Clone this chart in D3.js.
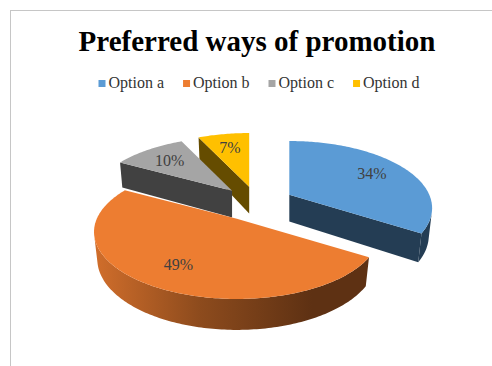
<!DOCTYPE html>
<html>
<head>
<meta charset="utf-8">
<script src="https://cdn.jsdelivr.net/npm/d3@7"></script>
<style>
  body { margin: 0; background: #fff; }
  text { font-family: "Liberation Serif", "Times New Roman", serif; }
</style>
</head>
<body>
<div id="chart"></div>
<script>
// chart data
const title = "Preferred ways of promotion";
const categories = ["Option a", "Option b", "Option c", "Option d"];
const shares = [34, 49, 10, 7];
const shareLabels = ["34%", "49%", "10%", "7%"];
const colors = ["#5B9BD5", "#ED7D31", "#A5A5A5", "#FFC000"];

const width = 492, height = 366;

const svg = d3.select("#chart")
  .append("svg")
  .attr("width", width)
  .attr("height", height);

// chart area border (right/bottom run off the picture)
svg.append("rect")
  .attr("x", 10.5).attr("y", 10.5)
  .attr("width", 520).attr("height", 420)
  .attr("fill", "#fff")
  .attr("stroke", "#C6C6C6");

svg.append("text")
  .attr("x", 257).attr("y", 51)
  .attr("text-anchor", "middle")
  .attr("font-size", 29)
  .attr("font-weight", "bold")
  .attr("fill", "#000")
  .text(title);

// legend, laid out from the measured text widths
const legend = svg.append("g");
let lx = 0;
categories.forEach((c, i) => {
  const g = legend.append("g").attr("transform", `translate(${lx},0)`);
  g.append("rect").attr("x", 0).attr("y", -8).attr("width", 7).attr("height", 7).attr("fill", colors[i]);
  const t = g.append("text").attr("x", 10).attr("y", 0)
    .attr("font-size", 16).attr("fill", "#333").text(c);
  lx += 10 + t.node().getComputedTextLength() + 19;
});
legend.attr("transform", `translate(${257 - (lx - 19) / 2 + 2},88)`);

// 3D pie geometry (perspective view of a tilted disc)
const cx = 257, cy = 203;          // screen position of the pie centre
const F = 140;                     // px per radius at centre depth
const D = 4.5;                     // camera distance in radii
const tilt = 27.4 * Math.PI / 180; // elevation
const depth = 0.22;                // thickness in radii
const explode = 0.27;              // explosion distance in radii
const sT = Math.sin(tilt), cT = Math.cos(tilt);
const cam = [0, D * sT, -D * cT];

function project(X, Y, Z) {
  const yc = Y * cT + Z * sT, zc = -Y * sT + Z * cT;
  const k = 1 / (1 + zc / D);
  return [cx + F * X * k, cy - F * yc * k];
}

const arcs = d3.pie().sort(null).value(d => d)(shares);

// each slice is drawn around the centre, then shifted on screen
const slices = arcs.map((a, i) => {
  const m = (a.startAngle + a.endAngle) / 2;
  const oz = explode * Math.cos(m);
  const [hx, hy] = project(explode * Math.sin(m), 0, oz);
  return { i, a0: a.startAngle, a1: a.endAngle, m, oz, dx: hx - cx, dy: hy - cy };
});

const rim = (a, Y) => project(Math.sin(a), Y, Math.cos(a));
const hub = Y => project(0, Y, 0);
const line = d3.line();
const poly = pts => line(pts) + "Z";

// side shading: lighter on the left, darker on the right
const defs = svg.append("defs");
const shade = d3.scaleLinear().domain([0, 1]).range([0.3, 2.6]);
colors.forEach((c, i) => {
  const g = defs.append("linearGradient")
    .attr("id", "wall" + i)
    .attr("gradientUnits", "userSpaceOnUse")
    .attr("x1", cx - 149).attr("x2", cx + 75)
    .attr("y1", 0).attr("y2", 0);
  [0, 0.5, 1].forEach(t => {
    g.append("stop").attr("offset", t).attr("stop-color", d3.color(c).darker(shade(t)).formatHex());
  });
});

const pieG = svg.append("g");

// draw far slices first
slices.slice().sort((a, b) => b.oz - a.oz).forEach(s => {
  const g = pieG.append("g").attr("transform", `translate(${s.dx},${s.dy})`);
  const base = colors[s.i];
  const dark = d3.color(base).darker(2.6).formatHex();

  // radial cut faces
  const faces = [
    { a: s.a0, n: [-Math.cos(s.a0), Math.sin(s.a0)] },
    { a: s.a1, n: [Math.cos(s.a1), -Math.sin(s.a1)] }
  ];
  faces.forEach(f => {
    if (f.n[0] * cam[0] + f.n[1] * cam[2] <= 1e-6) return;
    g.append("path")
      .attr("d", poly([hub(0), rim(f.a, 0), rim(f.a, -depth), hub(-depth)]))
      .attr("fill", dark);
  });

  // outer wall, only where it faces the camera
  const n = Math.max(2, Math.ceil((s.a1 - s.a0) / (Math.PI / 180)));
  const angles = d3.range(n + 1).map(k => s.a0 + (s.a1 - s.a0) * k / n);
  let run = [];
  const runs = [];
  angles.forEach(a => {
    const px = Math.sin(a), pz = Math.cos(a);
    const vis = Math.sin(a) * (cam[0] - px) + Math.cos(a) * (cam[2] - pz) > 0;
    if (vis) run.push(a);
    else if (run.length) { runs.push(run); run = []; }
  });
  if (run.length) runs.push(run);
  runs.forEach(r => {
    if (r.length < 2) return;
    const top = r.map(a => rim(a, 0));
    const bot = r.slice().reverse().map(a => rim(a, -depth));
    g.append("path")
      .attr("d", poly(top.concat(bot)))
      .attr("fill", `url(#wall${s.i})`);
  });

  // top face
  g.append("path")
    .attr("d", poly([hub(0)].concat(angles.map(a => rim(a, 0)))))
    .attr("fill", base);
});

// data labels on the top faces
slices.forEach(s => {
  const r = 0.72;
  const [x, y] = project(r * Math.sin(s.m), 0, r * Math.cos(s.m));
  svg.append("text")
    .attr("x", x + s.dx).attr("y", y + s.dy)
    .attr("text-anchor", "middle")
    .attr("dominant-baseline", "central")
    .attr("font-size", 16)
    .attr("fill", "#404040")
    .text(shareLabels[s.i]);
});
</script>
</body>
</html>
